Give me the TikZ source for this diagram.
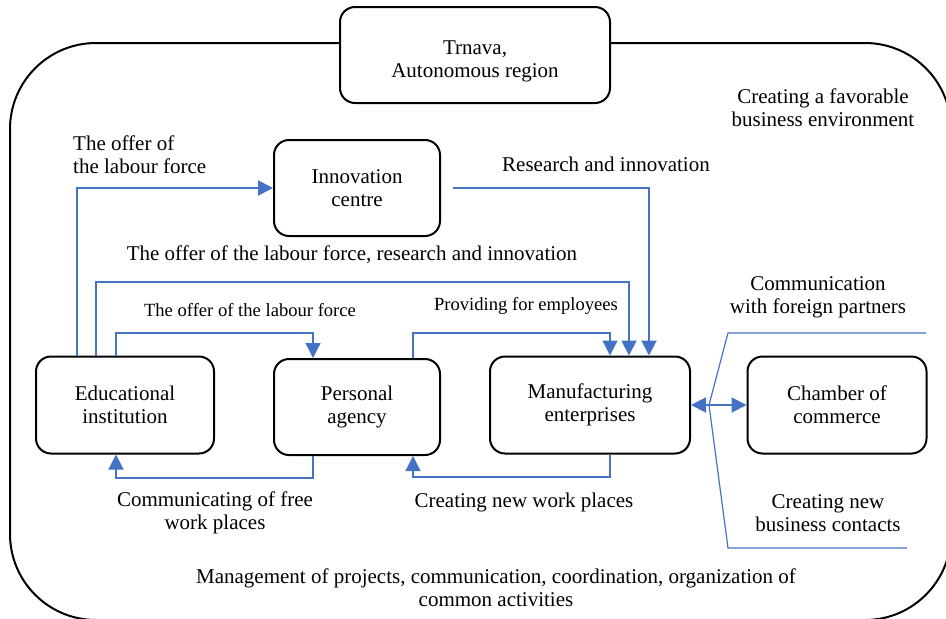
\documentclass[tikz,border=0pt]{standalone}
\usepackage{fontspec}
\setmainfont{Liberation Serif}
\usetikzlibrary{arrows.meta}
\definecolor{linkblue}{RGB}{68,114,196}

\begin{document}
\begin{tikzpicture}[x=1pt,y=-1pt,
  unit/.style={draw,line width=2pt,rounded corners=15pt,fill=white,align=center,
    inner sep=0pt,font=\fontsize{21}{23}\selectfont},
  flow/.style={draw=linkblue,line width=1.2pt,-{Triangle[length=15pt,width=15pt]}},
  heavy/.style={flow,line width=2pt},
  note/.style={align=center,inner sep=0pt,font=\fontsize{21}{23}\selectfont},
  small/.style={align=center,inner sep=0pt,font=\fontsize{18.6}{21}\selectfont}]
  \useasboundingbox (0,0) rectangle (946,619);

  % the region around everything
  \draw[line width=2pt,rounded corners=86pt] (10,43) rectangle (951,620);

  \node[unit,minimum width=270pt,minimum height=96pt] (region) at (475,55) {\rule{0pt}{27pt}Trnava,\\Autonomous region};
  \node[unit,minimum width=166pt,minimum height=96pt] (inno) at (357,188) {Innovation\\centre};
  \node[unit,minimum width=178pt,minimum height=97pt] (edu) at (125,405) {Educational\\institution};
  \node[unit,minimum width=166pt,minimum height=96pt] (agency) at (357,407) {Personal\\agency};
  \node[unit,minimum width=200pt,minimum height=97pt] (manu) at (590,405) {Manufacturing\\enterprises};
  \node[unit,minimum width=179pt,minimum height=97pt] (cham) at (837,405) {Chamber of\\commerce};

  % flows between the institutions
  \draw[heavy] (77,0 |- edu.north) |- (inno.west);
  \draw[heavy] ([xshift=12pt]inno.east) -| (649,0 |- manu.north);
  \draw[heavy] (96,0 |- edu.north) -- (96,282) -| (629,0 |- manu.north);
  \draw[flow] (116,0 |- edu.north) -- (116,333) -| (313,0 |- agency.north);
  \draw[flow] (413,0 |- agency.north) -- (413,333) -| (610,0 |- manu.north);
  \draw[flow] (313,0 |- agency.south) -- (313,478) -| (116,0 |- edu.south);
  \draw[flow] (610,0 |- manu.south) -- (610,477) -| (413,0 |- agency.south);
  \draw[heavy,{Triangle[length=15pt,width=15pt]}-{Triangle[length=15pt,width=15pt]}] (manu.east) -- (cham.west);

  % bracket of the chamber
  \coordinate (fork) at (709,405);
  \draw[linkblue,line width=1.2pt] (926,333) -- (728,333) -- (fork) -- (728,548) -- (907,548);

  \node[note,anchor=west,align=left] (l1) at (73,155) {The offer of\\the labour force};
  \node[note] (l2) at (606,164) {Research and innovation};
  \node[note] (l3) at (352,255) {The offer of the labour force, research and innovation};
  \node[small] (l4) at (250,310) {The offer of the labour force};
  \node[small] (l5) at (526,306) {Providing for employees};
  \node[note] (l6) at (215,513) {Communicating of free\\work places};
  \node[note] (l7) at (524,502) {Creating new work places};
  \node[note] (l8) at (818,297) {Communication\\with foreign partners};
  \node[note] (l9) at (828,513) {Creating new\\business contacts};
  \node[note] (l10) at (823,108) {Creating a favorable\\business environment};
  \node[note] (l11) at (496,588) {Management of projects, communication, coordination, organization of\\common activities};
\end{tikzpicture}
\end{document}
